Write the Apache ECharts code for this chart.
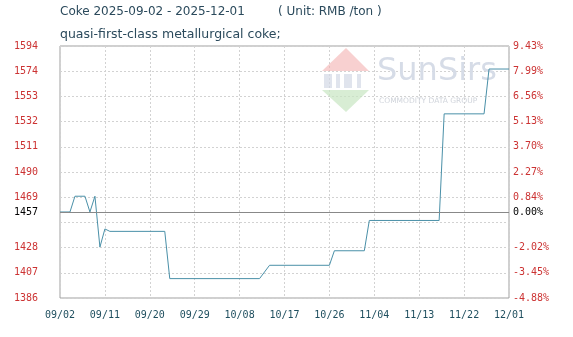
<!DOCTYPE html>
<html>
<head>
<meta charset="utf-8">
<script src="https://cdn.jsdelivr.net/npm/echarts@6/dist/echarts.min.js"></script>
<style>
html,body{margin:0;padding:0;background:#fff;}
#c{width:573px;height:337px;}
</style>
</head>
<body>
<div id="c"></div>
<script>
// ---- data ----
const dates = ['2025-09-02','2025-09-04','2025-09-05','2025-09-07','2025-09-08','2025-09-09','2025-09-10','2025-09-11','2025-09-12','2025-09-23','2025-09-24','2025-10-12','2025-10-14','2025-10-26','2025-10-27','2025-11-02','2025-11-03','2025-11-17','2025-11-18','2025-11-26','2025-11-27','2025-12-01'];
const prices = [1457,1457,1470,1470,1457,1470,1428,1443,1441,1441,1402,1402,1413,1413,1425,1425,1450,1450,1538,1538,1575,1575];
const xLabels = ['09/02','09/11','09/20','09/29','10/08','10/17','10/26','11/04','11/13','11/22','12/01'];
const leftLabels = ['1386','1407','1428','','1469','1490','1511','1532','1553','1574','1594'];
const rightLabels = ['-4.88%','-3.45%','-2.02%','','0.84%','2.27%','3.70%','5.13%','6.56%','7.99%','9.43%'];
const baseValue = 1457;
const baseLeftLabel = '1457';
const baseRightLabel = '0.00%';
const yMin = 1386, yMax = 1594;
const startDate = '2025-09-02', endDate = '2025-12-01';

// ---- build ----
const DAY = 86400000;
const t0 = Date.parse(startDate + 'T00:00:00Z');
const dayOf = d => Math.round((Date.parse(d + 'T00:00:00Z') - t0) / DAY);
const spanDays = dayOf(endDate);
const xStep = spanDays / (xLabels.length - 1);
const yStep = (yMax - yMin) / (leftLabels.length - 1);
const seriesData = dates.map((d, i) => [dayOf(d), prices[i] - yMin]);
const idxY = v => Math.round(v / yStep);

const RED = '#cc3333', GREEN = '#55aa55', BLACK = '#000';
const labelColor = (v) => {
  const val = yMin + v;
  if (Math.abs(val - baseValue) < 0.01) return BLACK;
  return val > baseValue ? RED : GREEN;
};
const mono = 'DejaVu Sans Mono';

const chart = echarts.init(document.getElementById('c'), null, {renderer: 'canvas'});
chart.setOption({
  animation: false,
  backgroundColor: '#fff',
  grid: {left: 60, right: 64, top: 46, bottom: 39, show: true, borderColor: '#a0a0a0', borderWidth: 1, backgroundColor: 'transparent'},
  graphic: [
    {type: 'text', left: 60, top: 6, style: {text: 'Coke ' + startDate + ' - ' + endDate, font: '12px "DejaVu Sans"', fill: '#2b4a5c'}},
    {type: 'text', left: 278, top: 6, style: {text: '( Unit: RMB /ton )', font: '12px "DejaVu Sans"', fill: '#2b4a5c'}},
    {type: 'text', left: 60, top: 28, style: {text: 'quasi-first-class metallurgical coke;', font: '12.5px "DejaVu Sans"', fill: '#2b4a5c'}},
    // watermark logo
    {type: 'polygon', z: 1, shape: {points: [[346, 48], [322, 71], [369, 71]]}, style: {fill: '#f4b0b0', opacity: 0.6}},
    {type: 'rect', z: 1, shape: {x: 324, y: 74, width: 8, height: 14}, style: {fill: '#d3d9e6', opacity: 0.7}},
    {type: 'rect', z: 1, shape: {x: 336, y: 74, width: 4, height: 14}, style: {fill: '#d3d9e6', opacity: 0.7}},
    {type: 'rect', z: 1, shape: {x: 344, y: 74, width: 8, height: 14}, style: {fill: '#d3d9e6', opacity: 0.7}},
    {type: 'rect', z: 1, shape: {x: 357, y: 74, width: 4, height: 14}, style: {fill: '#d3d9e6', opacity: 0.7}},
    {type: 'polygon', z: 1, shape: {points: [[322, 90], [369, 90], [346, 112]]}, style: {fill: '#c8e5c2', opacity: 0.7}},
    {type: 'text', z: 1, left: 377, top: 56, style: {text: 'SunSirs', font: '32px "DejaVu Sans"', fill: '#d6dce7'}},
    {type: 'text', z: 1, left: 379, top: 97, style: {text: 'COMMODITY DATA GROUP', font: '7.5px "DejaVu Sans"', fill: '#d0d4db'}}
  ],
  xAxis: {
    type: 'value', min: 0, max: spanDays, interval: xStep,
    axisLine: {show: false}, axisTick: {show: false},
    splitLine: {show: true, lineStyle: {color: '#d2d2d2', type: [2, 2], width: 1}},
    axisLabel: {margin: 12, fontFamily: mono, fontSize: 10, color: '#1f4f5f',
      formatter: v => xLabels[Math.round(v / xStep)] || ''}
  },
  yAxis: [
    {
      type: 'value', min: 0, max: yMax - yMin, interval: yStep, position: 'left',
      axisLine: {show: false}, axisTick: {show: false},
      splitLine: {show: true, lineStyle: {color: '#d2d2d2', type: [2, 2], width: 1}},
      axisLabel: {margin: 22, fontFamily: mono, fontSize: 10,
        formatter: v => leftLabels[idxY(v)] || '',
        color: v => labelColor(v)}
    },
    {
      type: 'value', min: 0, max: yMax - yMin, interval: yStep, position: 'right',
      axisLine: {show: false}, axisTick: {show: false}, splitLine: {show: false},
      axisLabel: {margin: 4, fontFamily: mono, fontSize: 10,
        formatter: v => rightLabels[idxY(v)] || '',
        color: v => labelColor(v)}
    }
  ],
  series: [{
    type: 'line', data: seriesData, symbol: 'none', z: 3,
    lineStyle: {color: '#4a90a8', width: 1},
    markLine: {
      silent: true, symbol: 'none', animation: false,
      lineStyle: {color: '#888888', type: 'solid', width: 1},
      data: [
        {yAxis: baseValue - yMin, label: {show: true, position: 'start', distance: 22, formatter: baseLeftLabel, color: BLACK, fontFamily: mono, fontSize: 10}},
        {yAxis: baseValue - yMin, label: {show: true, position: 'end', distance: 4, formatter: baseRightLabel, color: BLACK, fontFamily: mono, fontSize: 10}}
      ]
    }
  }]
});
</script>
</body>
</html>
